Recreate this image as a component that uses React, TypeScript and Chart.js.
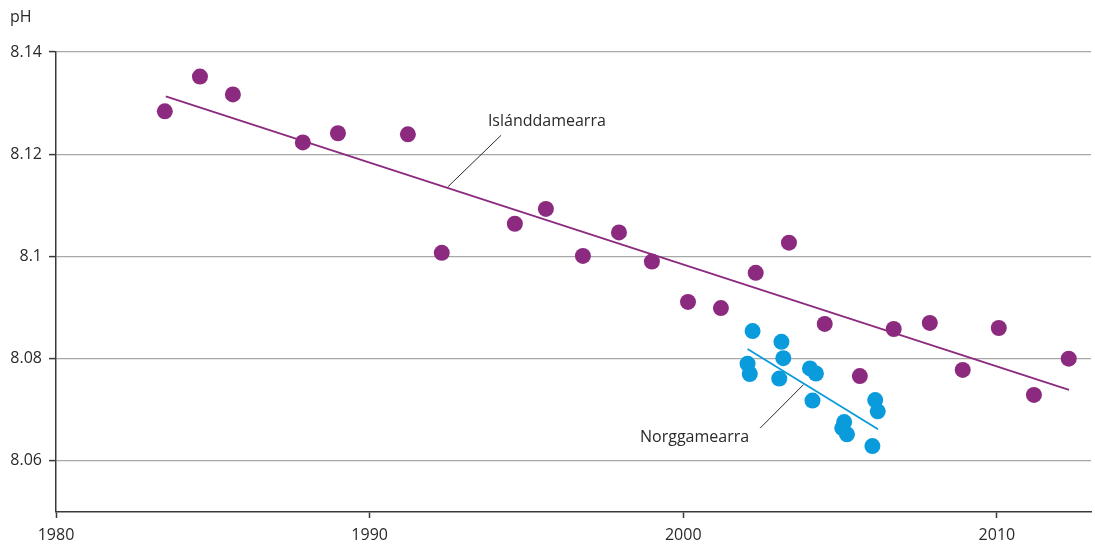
import React, { useEffect, useRef } from "react";
import { Chart, registerables } from "chart.js";

Chart.register(...registerables);

const icelandYears = [1983.47, 1984.59, 1985.64, 1987.87, 1988.99, 1991.22, 1992.3, 1994.63, 1995.62, 1996.8, 1997.95, 1999.0, 2000.15, 2001.2, 2002.31, 2003.37, 2004.51, 2005.63, 2006.71, 2007.86, 2008.91, 2010.06, 2011.18, 2012.29];
const icelandPh = [8.1284, 8.1352, 8.1317, 8.1223, 8.1241, 8.1239, 8.1007, 8.1064, 8.1093, 8.1001, 8.1047, 8.099, 8.0911, 8.0899, 8.0968, 8.1027, 8.0868, 8.0766, 8.0858, 8.087, 8.0778, 8.086, 8.0729, 8.08];

const norwayYears = [2002.21, 2003.13, 2003.19, 2002.05, 2002.12, 2003.06, 2004.04, 2004.23, 2004.12, 2006.12, 2006.2, 2005.13, 2005.07, 2005.22, 2006.03];
const norwayPh = [8.0854, 8.0833, 8.0801, 8.079, 8.077, 8.0761, 8.0781, 8.0771, 8.0718, 8.0719, 8.0697, 8.0676, 8.0664, 8.0652, 8.0629];

const icelandTrendYears = [1983.5, 2012.3];
const icelandTrendPh = [8.1313, 8.0739];
const norwayTrendYears = [2002.05, 2006.21];
const norwayTrendPh = [8.0819, 8.0662];

const xTicks = [1980, 1990, 2000, 2010];
const yTicks = [8.06, 8.08, 8.1, 8.12, 8.14];

const seriesLabels = ["Islánddamearra", "Norggamearra"];
// annotation anchors in data units: [textLeftYear, textPh, leaderStartYear, leaderStartPh, leaderEndYear, leaderEndPh]
const icelandNote = [1993.77, 8.1264, 1994.19, 8.1237, 1992.49, 8.1136];
const norwayNote = [1998.62, 8.0646, 2002.45, 8.0664, 2003.83, 8.0749];

const PURPLE = "#8B2A7E";
const BLUE = "#0A9BDC";
const TEXT = "#2a2a2a";
const FONT = "'Open Sans', sans-serif";
const FSIZE = 16;

const zip = (xs: number[], ys: number[]) => xs.map((x, i) => ({ x, y: ys[i] }));

export default function App() {
  const ref = useRef<HTMLCanvasElement | null>(null);
  useEffect(() => {
    document.body.style.margin = "0";
    const canvas = ref.current;
    if (!canvas) return;

    const notesPlugin = {
      id: "notes",
      afterDatasetsDraw(chart: any) {
        const { ctx, scales } = chart;
        const xs = scales.x;
        const ys = scales.y;
        ctx.save();
        ctx.strokeStyle = TEXT;
        ctx.lineWidth = 1;
        ctx.fillStyle = TEXT;
        ctx.font = `${FSIZE}px ${FONT}`;
        ctx.textBaseline = "middle";
        ctx.textAlign = "left";
        const notes = [icelandNote, norwayNote];
        notes.forEach((n, i) => {
          ctx.beginPath();
          ctx.moveTo(xs.getPixelForValue(n[2]), ys.getPixelForValue(n[3]));
          ctx.lineTo(xs.getPixelForValue(n[4]), ys.getPixelForValue(n[5]));
          ctx.stroke();
          ctx.fillText(seriesLabels[i], xs.getPixelForValue(n[0]), ys.getPixelForValue(n[1]));
        });
        ctx.fillText("pH", 10, 17);
        ctx.restore();
      },
    };

    const chart = new Chart(canvas, {
      type: "scatter",
      data: {
        datasets: [
          {
            label: seriesLabels[0] + " trend",
            type: "line",
            data: zip(icelandTrendYears, icelandTrendPh),
            borderColor: PURPLE,
            borderWidth: 1.8,
            pointRadius: 0,
            fill: false,
          },
          {
            label: seriesLabels[1] + " trend",
            type: "line",
            data: zip(norwayTrendYears, norwayTrendPh),
            borderColor: BLUE,
            borderWidth: 1.8,
            pointRadius: 0,
            fill: false,
          },
          {
            label: seriesLabels[0],
            data: zip(icelandYears, icelandPh),
            backgroundColor: PURPLE,
            borderWidth: 0,
            pointRadius: 8,
          },
          {
            label: seriesLabels[1],
            data: zip(norwayYears, norwayPh),
            backgroundColor: BLUE,
            borderWidth: 0,
            pointRadius: 8,
          },
        ],
      },
      options: {
        responsive: false,
        animation: false,
        events: [],
        layout: { autoPadding: false, padding: { top: 52, right: 4, left: 0, bottom: 0 } },
        plugins: { legend: { display: false }, tooltip: { enabled: false }, title: { display: false } },
        scales: {
          x: {
            type: "linear",
            min: 1980,
            max: 2013,
            afterBuildTicks: (s: any) => {
              s.ticks = xTicks.map((v) => ({ value: v }));
            },
            afterFit: (s: any) => {
              s.height = 32;
            },
            border: { color: "#3a3a3a", width: 1.5 },
            grid: { drawOnChartArea: false, drawTicks: true, tickLength: 6, tickColor: "#3a3a3a", tickWidth: 1.5 },
            ticks: {
              color: TEXT,
              font: { family: FONT, size: FSIZE },
              padding: 8,
              maxRotation: 0,
              callback: (v: any) => String(v),
            },
          },
          y: {
            type: "linear",
            min: 8.05,
            max: 8.14,
            afterBuildTicks: (s: any) => {
              s.ticks = yTicks.map((v) => ({ value: v }));
            },
            afterFit: (s: any) => {
              s.width = 56;
            },
            border: { color: "#3a3a3a", width: 1.5 },
            grid: { color: "#a8a8a8", lineWidth: 1.2, drawTicks: true, tickLength: 7, tickColor: "#3a3a3a", tickWidth: 1.5 },
            ticks: {
              color: TEXT,
              font: { family: FONT, size: FSIZE },
              padding: 7,
              callback: (v: any) => String(+Number(v).toFixed(2)),
            },
          },
        },
      },
      plugins: [notesPlugin],
    });
    return () => chart.destroy();
  }, []);
  return (
    <div style={{ position: "absolute", left: 0, top: 0, width: 1095, height: 544 }}>
      <canvas ref={ref} width={1095} height={544} />
    </div>
  );
}
